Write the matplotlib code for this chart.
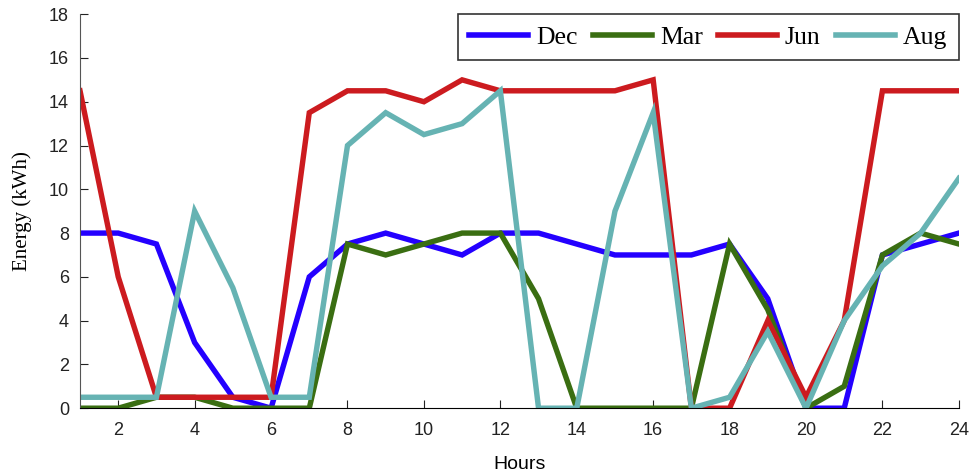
import matplotlib
matplotlib.use("Agg")
import matplotlib.pyplot as plt

# hourly energy per month
hours = list(range(1, 25))
dec = [8, 8, 7.5, 3, 0.5, 0, 6, 7.5, 8, 7.5, 7, 8, 8, 7.5, 7, 7, 7, 7.5, 5, 0, 0, 7, 7.5, 8]
mar = [0, 0, 0.5, 0.5, 0, 0, 0, 7.5, 7, 7.5, 8, 8, 5, 0, 0, 0, 0, 7.5, 4.5, 0, 1, 7, 8, 7.5]
jun = [14.5, 6, 0.5, 0.5, 0.5, 0.5, 13.5, 14.5, 14.5, 14, 15, 14.5, 14.5, 14.5, 14.5, 15, 0, 0, 4, 0.5, 4, 14.5, 14.5, 14.5]
aug = [0.5, 0.5, 0.5, 9, 5.5, 0.5, 0.5, 12, 13.5, 12.5, 13, 14.5, 0, 0, 9, 13.5, 0, 0.5, 3.5, 0, 4, 6.5, 8, 10.5]

series = [("Dec", dec, "#2400ff"), ("Mar", mar, "#3a6e12"),
          ("Jun", jun, "#cc1b1f"), ("Aug", aug, "#66b3b3")]

fig = plt.figure(figsize=(9.7, 4.73), dpi=100)
ax = fig.add_axes([0.0825, 0.137, 0.906, 0.833])

for name, vals, col in series:
    ax.plot(hours, vals, color=col, lw=3.9, label=name, solid_joinstyle="miter")

ax.set_xlim(1, 24)
ax.set_ylim(0, 18)
ax.set_xticks(range(2, 25, 2))
ax.set_yticks(range(0, 19, 2))
ax.spines["top"].set_visible(False)
ax.spines["right"].set_visible(False)
ax.spines["left"].set_color("#555555")
ax.tick_params(direction="in", length=6, labelsize=13, colors="#222222")
ax.tick_params(axis="x", pad=10)
ax.tick_params(axis="y", pad=8)
for lab in ax.get_xticklabels() + ax.get_yticklabels():
    lab.set_family("Liberation Sans")

ax.set_xlabel("Hours", family="Liberation Sans", fontsize=14, labelpad=12)
ax.set_ylabel("Energy (kWh)", family="Liberation Serif", fontsize=15, labelpad=12)

leg = ax.legend(loc="upper right", ncol=4, frameon=True, fancybox=False,
                prop={"family": "Liberation Serif", "size": 18.5},
                handlelength=2.3, handletextpad=0.3, columnspacing=0.6,
                borderaxespad=0.0, borderpad=0.45)
leg.get_frame().set_edgecolor("black")
leg.get_frame().set_linewidth(1.2)
for h in leg.get_lines():
    h.set_linewidth(4)

fig.savefig("out.png", dpi=100)
